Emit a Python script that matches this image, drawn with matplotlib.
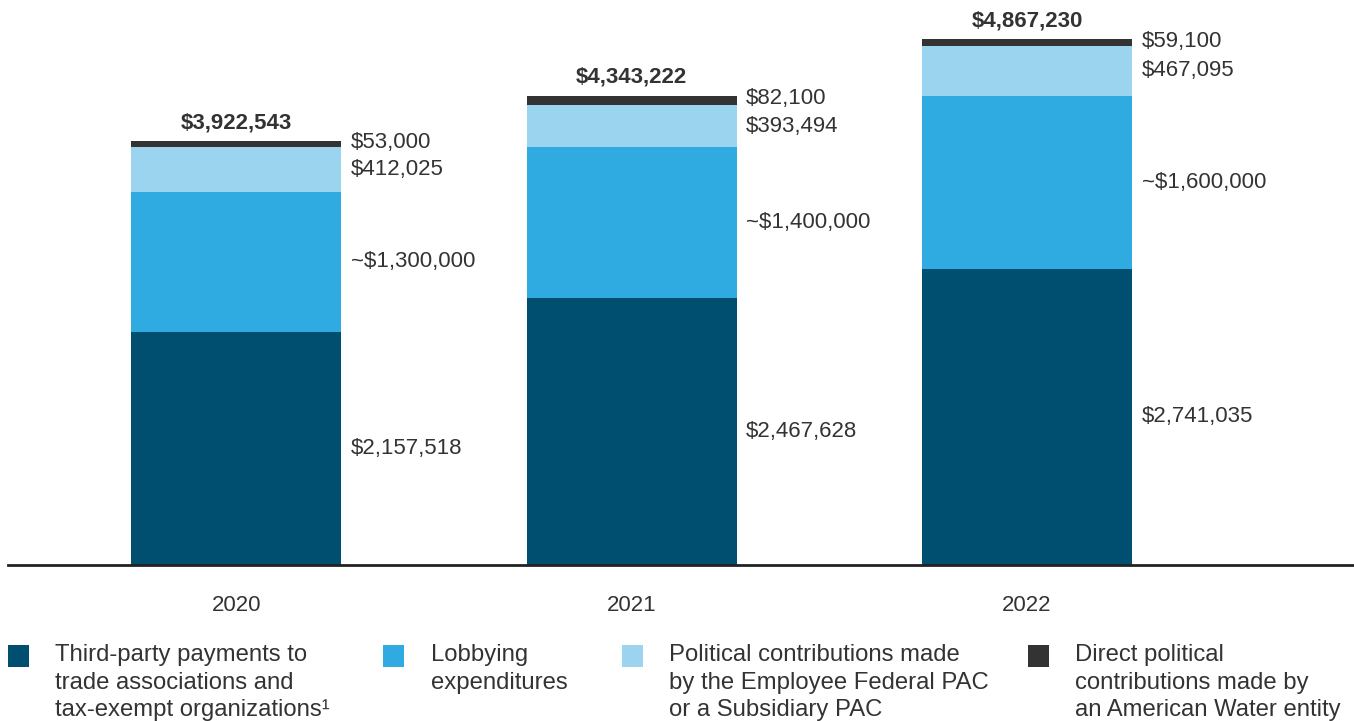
import numpy as np
import matplotlib.pyplot as plt
from matplotlib.patches import Rectangle

# Data
years = ['2020', '2021', '2022']
third_party = [2157518, 2467628, 2741035]
lobbying = [1300000, 1400000, 1600000]
pac = [412025, 393494, 467095]
direct = [53000, 82100, 59100]
totals = [3922543, 4343222, 4867230]

third_labels = ['$2,157,518', '$2,467,628', '$2,741,035']
lobby_labels = ['~$1,300,000', '~$1,400,000', '~$1,600,000']
pac_labels = ['$412,025', '$393,494', '$467,095']
direct_labels = ['$53,000', '$82,100', '$59,100']
total_labels = ['$3,922,543', '$4,343,222', '$4,867,230']

legend_labels = ['Third-party payments to\ntrade associations and\ntax-exempt organizations\u00b9',
                 'Lobbying\nexpenditures',
                 'Political contributions made\nby the Employee Federal PAC\nor a Subsidiary PAC',
                 'Direct political\ncontributions made by\nan American Water entity']

colors = ['#004f71', '#30abe2', '#9bd4ee', '#333333']
txt = '#333333'

plt.rcParams['font.family'] = ['Liberation Sans', 'DejaVu Sans']

fig = plt.figure(figsize=(13.54, 7.21), dpi=100)
ax = fig.add_axes([8/1354, 156/721, 1 - 8/1354, 565/721])

x = np.arange(len(years))
w = 0.531
series = [third_party, lobbying, pac, direct]
labels = [third_labels, lobby_labels, pac_labels, direct_labels]
bottom = np.zeros(len(years))
for vals, lab, c in zip(series, labels, colors):
    vals = np.array(vals, dtype=float)
    ax.bar(x, vals, w, bottom=bottom, color=c, linewidth=0)
    for i in range(len(years)):
        yc = bottom[i] + vals[i] / 2
        dy = 0
        if c == colors[3]:
            dy = 1
        ax.annotate(lab[i], (x[i] + w / 2, yc), xytext=(7, dy), textcoords='offset points',
                    ha='left', va='center', fontsize=16, color=txt)
    bottom += vals

for i in range(len(years)):
    ax.annotate(total_labels[i], (x[i], totals[i]), xytext=(0, 6), textcoords='offset points',
                ha='center', va='bottom', fontsize=16, fontweight='bold', color=txt)
    ax.annotate(years[i], (x[i], 0), xytext=(0, -29), textcoords='offset points',
                ha='center', va='center', fontsize=16, color=txt)

ax.set_xlim(-0.577, 2.827)
ax.set_ylim(0, 565 / 108 * 1e6)
for s in ['top', 'right', 'left']:
    ax.spines[s].set_visible(False)
ax.spines['bottom'].set_linewidth(2)
ax.spines['bottom'].set_color('#222222')
ax.set_xticks([])
ax.set_yticks([])

# legend
sq_x = [8, 383, 622, 1028]
tx_x = [55, 431, 669, 1075]
for i in range(4):
    fig.add_artist(Rectangle((sq_x[i] / 1354, 1 - 667 / 721), 21 / 1354, 22 / 721,
                             transform=fig.transFigure, color=colors[i], linewidth=0))
    fig.text(tx_x[i] / 1354, 1 - 644 / 721, legend_labels[i], ha='left', va='top',
             fontsize=17.2, color=txt, linespacing=1.33)

plt.savefig('out.png', dpi=100)
